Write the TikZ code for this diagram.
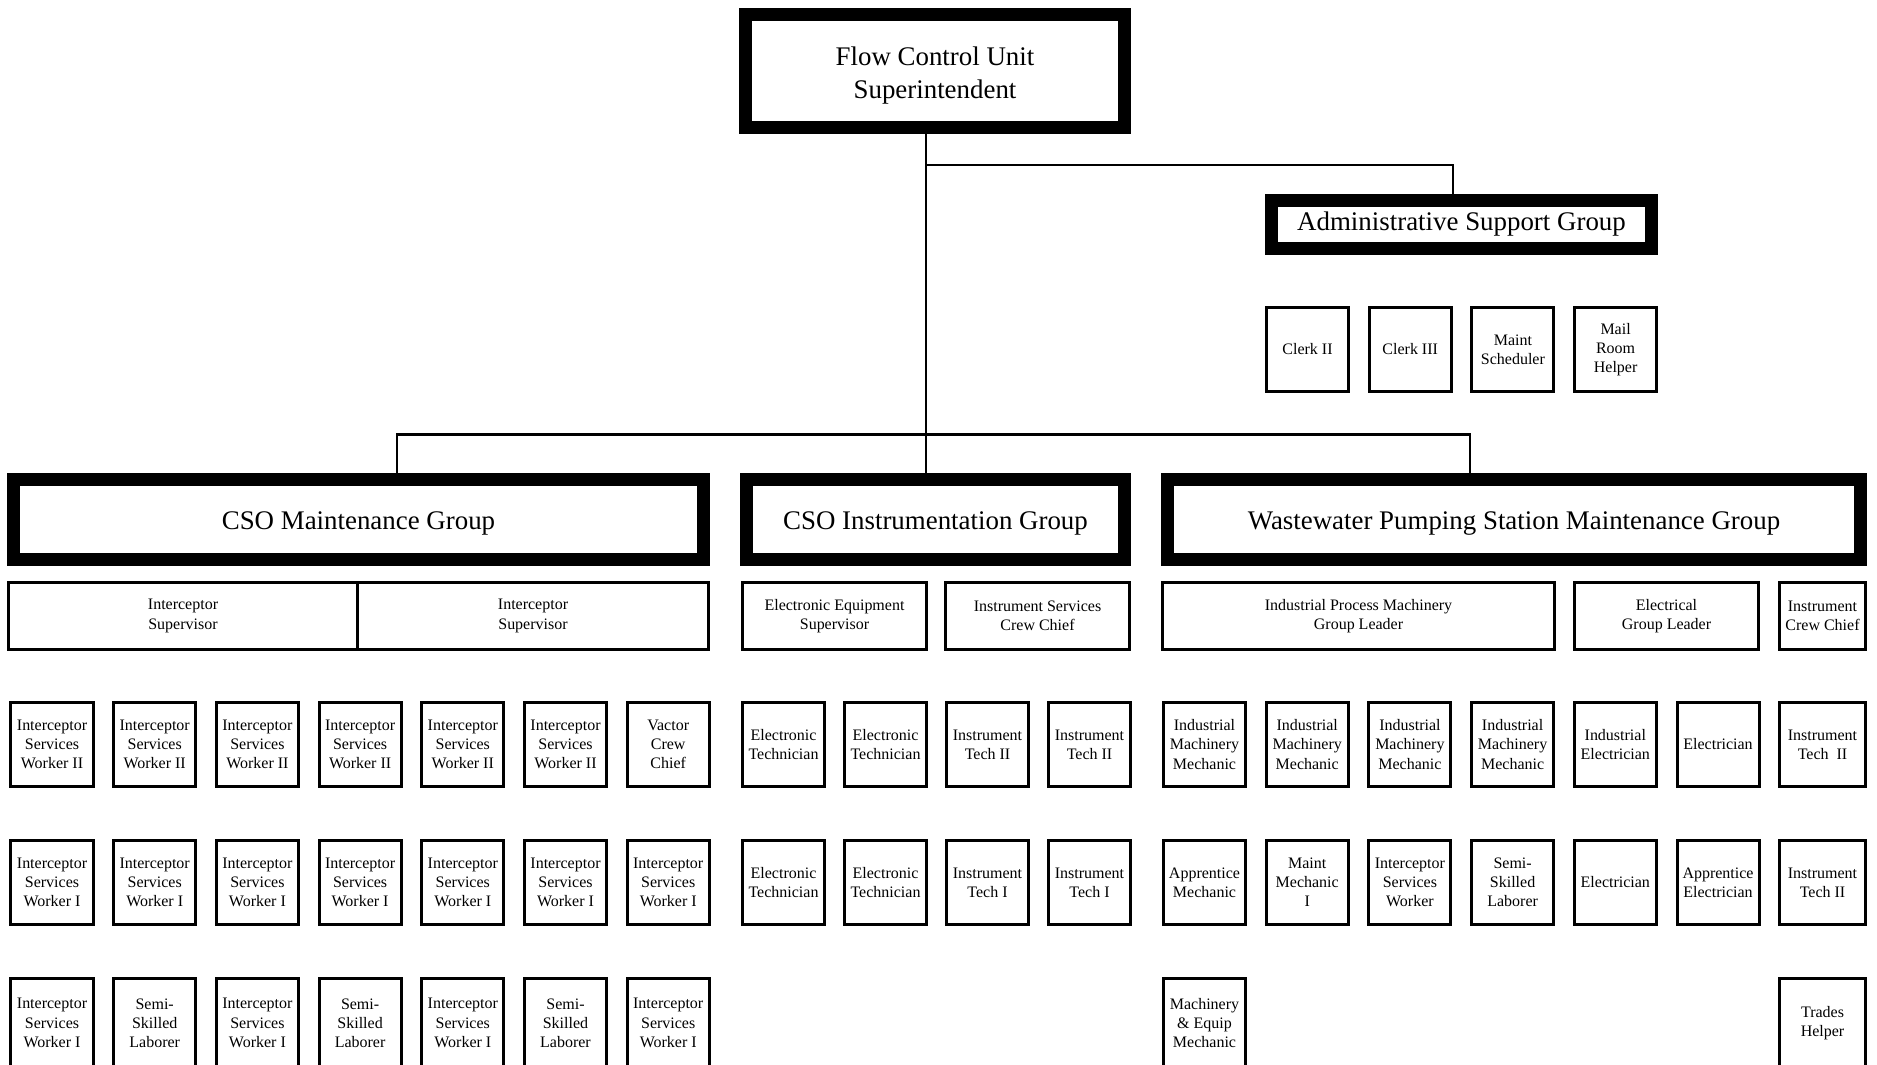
\documentclass[tikz,border=0pt]{standalone}
\usepackage{fontspec}
\setmainfont{Liberation Serif}
\begin{document}
\begin{tikzpicture}[x=0.2mm,y=0.2mm,
	group node/.style={draw,line width=2.6mm,inner sep=0pt,align=center,font=\fontsize{15.3}{19}\selectfont},
	lead node/.style={draw,line width=0.6mm,inner sep=0pt,align=center,minimum height=13.4mm,font=\fontsize{9.1}{10.9}\selectfont},
	staff node/.style={draw,line width=0.6mm,inner sep=0pt,align=center,minimum width=16.4mm,minimum height=16.8mm,font=\fontsize{9.1}{10.9}\selectfont},
	link/.style={line width=0.45mm}
]

	\useasboundingbox (0,0) rectangle (1877,-1065);

	% head and admin
	\node[group node,minimum width=75.8mm,minimum height=22.6mm,text height=34.9pt,text depth=3.3pt] at (935,-71) (top) {Flow Control Unit\\Superintendent};
	\node[group node,minimum width=76mm,minimum height=9.6mm] at (1461.5,-224.5) (admin) {Administrative Support Group};

	\foreach \t [count=\i] in {Clerk II, Clerk III, Maint\\Scheduler, Mail\\Room\\Helper}
		\node[staff node] at ({1307.5+102.7*(\i-1)},-349.5) (c\i) {\t};

	% the three groups
	\node[group node,minimum width=138mm,minimum height=16mm,text height=11.5pt,text depth=0pt] at (358.5,-519.5) (maint) {CSO Maintenance Group};
	\node[group node,minimum width=75.6mm,minimum height=16mm,text height=11.5pt,text depth=0pt] at (935.5,-519.5) (instr) {CSO Instrumentation Group};
	\node[group node,minimum width=138.6mm,minimum height=16mm,text height=11.5pt,text depth=0pt] at (1514,-519.5) (pump) {Wastewater Pumping Station Maintenance Group};

	\node[lead node,minimum width=69.8mm] at (183,-616) (ms1) {Interceptor\\Supervisor};
	\node[lead node,minimum width=70.2mm] at (533,-616) (ms2) {Interceptor\\Supervisor};
	\node[lead node,minimum width=36.8mm] at (834.5,-616) (is1) {Electronic Equipment\\Supervisor};
	\node[lead node,minimum width=36.8mm] at (1037.5,-616) (is2) {Instrument Services\\Crew Chief};
	\node[lead node,minimum width=78.4mm] at (1358.5,-616) (ps1) {Industrial Process Machinery\\Group Leader};
	\node[lead node,minimum width=36.8mm] at (1666.5,-616) (ps2) {Electrical\\Group Leader};
	\node[lead node,minimum width=17.2mm] at (1822.5,-616) (ps3) {Instrument\\Crew Chief};

	% CSO maintenance staff
	\foreach \t [count=\i] in {{Interceptor\\Services\\Worker II},{Interceptor\\Services\\Worker II},{Interceptor\\Services\\Worker II},{Interceptor\\Services\\Worker II},{Interceptor\\Services\\Worker II},{Interceptor\\Services\\Worker II},{Vactor\\Crew\\Chief}}
		\node[staff node] at ({52+102.7*(\i-1)},-744.5) (m1\i) {\t};
	\foreach \i in {1,...,7}
		\node[staff node] at ({52+102.7*(\i-1)},-882.5) (m2\i) {Interceptor\\Services\\Worker I};
	\foreach \t [count=\i] in {{Interceptor\\Services\\Worker I},{Semi-\\Skilled\\Laborer},{Interceptor\\Services\\Worker I},{Semi-\\Skilled\\Laborer},{Interceptor\\Services\\Worker I},{Semi-\\Skilled\\Laborer},{Interceptor\\Services\\Worker I}}
		\node[staff node,minimum height=18mm] at ({52+102.7*(\i-1)},-1023) (m3\i) {\t};

	% CSO instrumentation staff
	\foreach \t [count=\i] in {{Electronic\\Technician},{Electronic\\Technician},{Instrument\\Tech II},{Instrument\\Tech II}}
		\node[staff node] at ({783.5+102*(\i-1)},-744.5) (i1\i) {\t};
	\foreach \t [count=\i] in {{Electronic\\Technician},{Electronic\\Technician},{Instrument\\Tech I},{Instrument\\Tech I}}
		\node[staff node] at ({783.5+102*(\i-1)},-882.5) (i2\i) {\t};

	% pumping station staff
	\foreach \t [count=\i] in {{Industrial\\Machinery\\Mechanic},{Industrial\\Machinery\\Mechanic},{Industrial\\Machinery\\Mechanic},{Industrial\\Machinery\\Mechanic},{Industrial\\Electrician},Electrician}
		\node[staff node] at ({1204.5+102.7*(\i-1)},-744.5) (p1\i) {\t};
	\foreach \t [count=\i] in {{Apprentice\\Mechanic},{Maint\\Mechanic\\I},{Interceptor\\Services\\Worker},{Semi-\\Skilled\\Laborer},Electrician,{Apprentice\\Electrician}}
		\node[staff node] at ({1204.5+102.7*(\i-1)},-882.5) (p2\i) {\t};
	\node[staff node,minimum height=18mm] at (1204.5,-1023) (p31) {Machinery\\\& Equip\\Mechanic};

	\node[staff node,minimum width=17.2mm] at (1822.5,-744.5) (p17) {Instrument\\Tech~~II};
	\node[staff node,minimum width=17.2mm] at (1822.5,-882.5) (p27) {Instrument\\Tech II};
	\node[staff node,minimum width=17.2mm,minimum height=18mm] at (1822.5,-1023) (p37) {Trades\\Helper};

	% lines
	\coordinate (ja) at (926,-165);
	\coordinate (jb) at (926,-434.5);
	\draw[link] (top.south -| ja) -- (instr.north -| ja);
	\draw[link] (ja) -| ([xshift=-1.7mm]admin.north);
	\draw[link] (jb) -| ([xshift=7.7mm]maint.north);
	\draw[link] (jb) -| ([xshift=-8.8mm]pump.north);
\end{tikzpicture}
\end{document}
